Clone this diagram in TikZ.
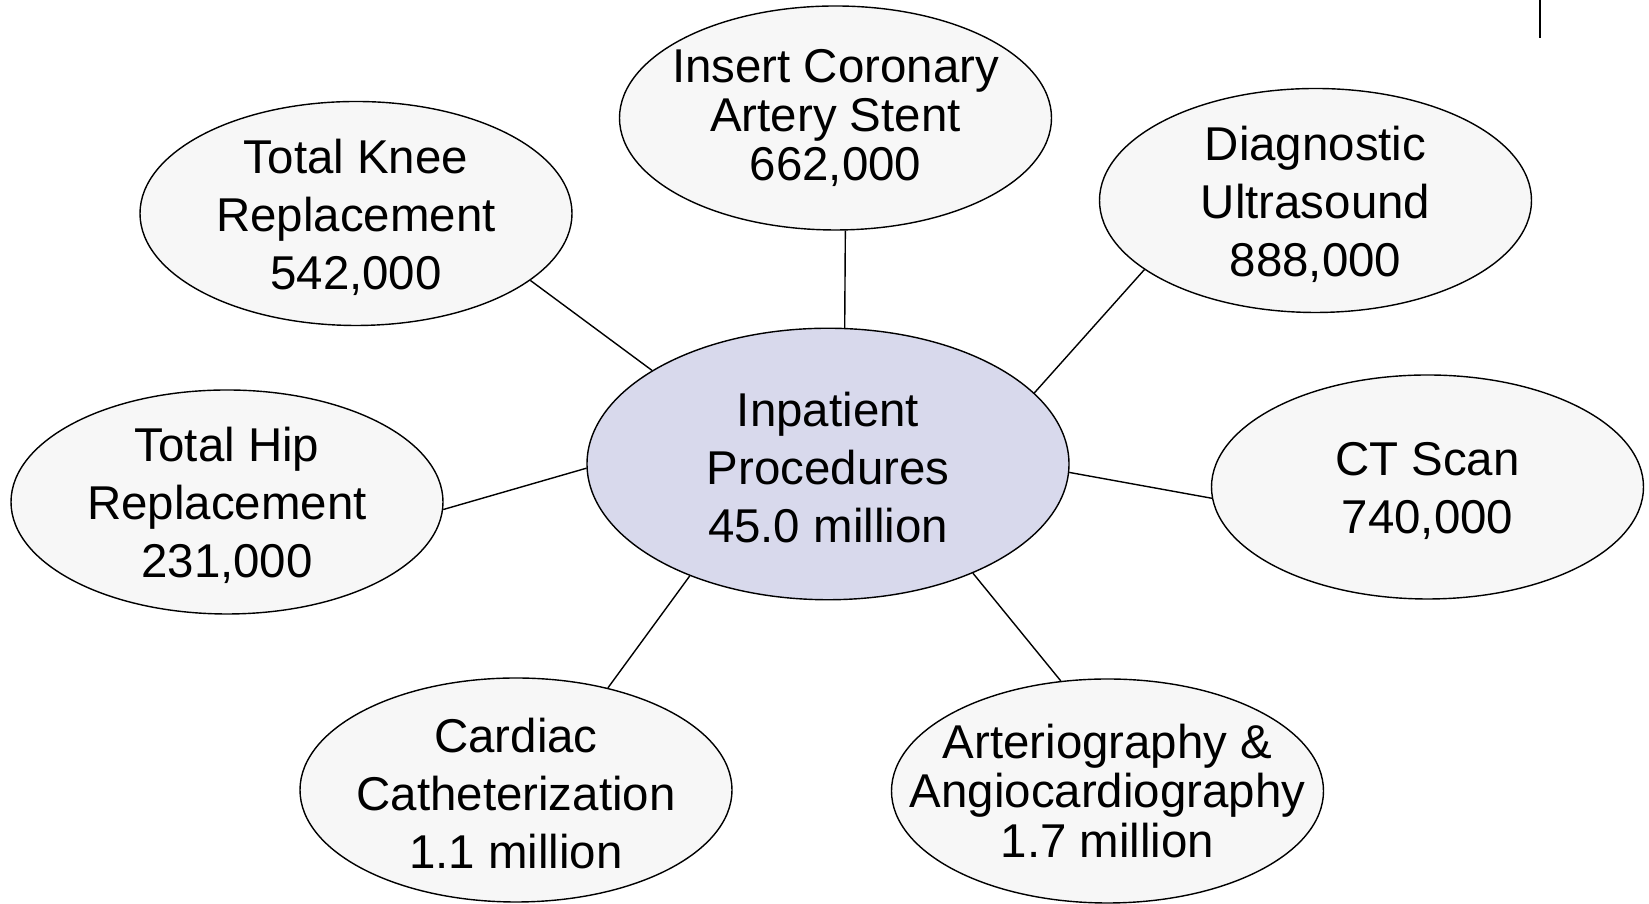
\documentclass[tikz,border=0pt]{standalone}
\usepackage{fontspec}
\setmainfont{Liberation Sans}
\usetikzlibrary{shapes.geometric}
\definecolor{hubfill}{RGB}{216,217,236}
\definecolor{procfill}{RGB}{247,247,247}
\begin{document}
\begin{tikzpicture}[
  proc/.style={draw, ellipse, line width=0.8pt, fill=procfill, minimum width=8.64cm, minimum height=4.48cm, inner sep=0pt},
  hub/.style={draw, ellipse, line width=0.8pt, fill=hubfill, minimum width=9.64cm, minimum height=5.43cm, inner sep=0pt},
  txt/.style={align=center, inner sep=0pt, yshift=-0.07cm, font=\fontsize{27}{33}\selectfont},
  tighttxt/.style={align=center, inner sep=0pt, font=\fontsize{27}{28}\selectfont},
  link/.style={line width=0.8pt}]
\useasboundingbox (0,0) rectangle (32.98,18.08);
\node (hub) [hub] at (16.56,8.80) {};
\node (knee) [proc] at (7.12,13.81) {};
\node (stent) [proc] at (16.71,15.72) {};
\node (sound) [proc] at (26.31,14.07) {};
\node (ct) [proc] at (28.55,8.34) {};
\node (hip) [proc] at (4.54,8.04) {};
\node (cath) [proc] at (10.32,2.28) {};
\node (angio) [proc] at (22.15,2.26) {};

\node (hubtxt) [txt] at (hub) {Inpatient\\Procedures\\45.0 million};
\node (kneetxt) [txt] at (knee) {Total Knee\\Replacement\\542,000};
\node (stenttxt) [tighttxt] at (stent) {Insert Coronary\\Artery Stent\\662,000};
\node (soundtxt) [txt] at (sound) {Diagnostic\\Ultrasound\\888,000};
\node (cttxt) [txt] at (ct) {CT Scan\\740,000};
\node (hiptxt) [txt] at (hip) {Total Hip\\Replacement\\231,000};
\node (cathtxt) [txt] at (cath) {Cardiac\\Catheterization\\1.1 million};
\node (angiotxt) [tighttxt] at (angio) {Arteriography \&\\Angiocardiography\\1.7 million};

\draw[link] (knee.-21.4) -- (hub.152.5);
\draw[link] (stent.-85.5) -- (hub.83);
\draw[link] (sound.202.4) -- (hub.19.3);
\draw[link] (ct.183.3) -- (hub.-2);
\draw[link] (hip.-2.9) -- (hub.181.8);
\draw[link] (cath.48.3) -- (hub.219.7);
\draw[link] (angio.113.9) -- (hub.-37);

\draw[line width=1.1pt] (30.8,18.08) -- (30.8,17.32);
\end{tikzpicture}
\end{document}
